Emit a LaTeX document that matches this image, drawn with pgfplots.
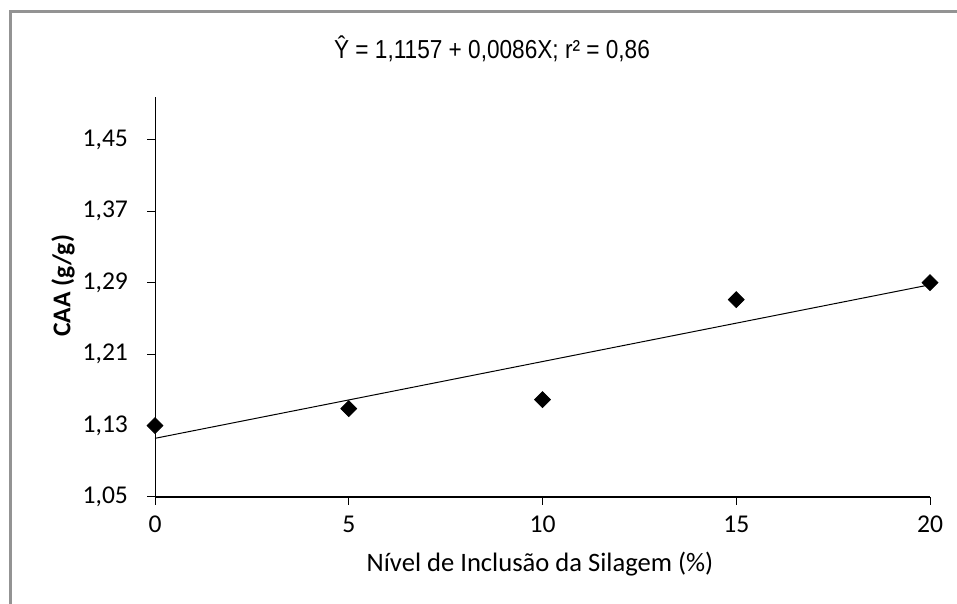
\documentclass[border=0pt]{standalone}
\usepackage{graphicx}
\usepackage{fontspec}
\setmainfont{Carlito}
\newfontfamily\arialfont{Liberation Sans}
\usepackage{pgfplots}
\pgfplotsset{compat=1.18}

\begin{document}
\begin{tikzpicture}
	% outer chart frame (gray), only top and left edges are visible
	\draw[color=gray!85, line width=1.5pt] (5pt,-10pt) -- (5pt,296pt) -- (490pt,296pt);
	%
	\node[font=\arialfont\fontsize{13}{15}\selectfont, anchor=base] at (246pt,272.5pt)
		{\scalebox{0.87}[1]{Ŷ = 1,1157 + 0,0086X; r² = 0,86}};
	%
	\begin{axis}[
	scale only axis,
	width=387.5pt, height=200pt,
	at={(77.5pt,53.5pt)}, anchor=south west,
	xmin=0, xmax=20,
	ymin=1.05, ymax=1.498,
	xtick={0,5,10,15,20},
	ytick={1.05,1.13,1.21,1.29,1.37,1.45},
	axis x line*=bottom,
	axis y line*=left,
	x axis line style={-, line width=0.8pt},
	y axis line style={-, line width=0.5pt},
	tick align=outside,
	major tick length=4pt,
	tick style={black, line width=0.5pt},
	minor tick num=0,
	clip=false,
	ticklabel style={font=\fontsize{12.8}{14}\selectfont},
	/pgf/number format/assume math mode=true,
	yticklabel style={/pgf/number format/use comma, /pgf/number format/fixed,
		/pgf/number format/fixed zerofill, /pgf/number format/precision=2, xshift=-6pt},
	xticklabel style={yshift=-2pt},
	xlabel={Nível de Inclusão da Silagem (\%)},
	ylabel={\textbf{CAA (g/g)}},
	xlabel style={font=\fontsize{13.3}{15}\selectfont,
		at={(axis description cs:0.4968,-0.1875)}, anchor=base},
	ylabel style={font=\fontsize{12.8}{15}\selectfont,
		at={(axis description cs:-0.1187,0.5275)}, anchor=center},
	]
		% regression line
		\addplot[color=black, line width=0.5pt, no marks]
			coordinates {
			(0,1.1157)(20,1.2877)
			};
		% observed means
		\addplot[
			only marks,
			mark=square*,
			mark size=2.8pt,
			mark options={rotate=45},
			color=black,
			]
			coordinates {
			(0,1.130)(5,1.149)(10,1.159)(15,1.271)(20,1.290)
			};
	\end{axis}
	%
	\pgfresetboundingbox
	\useasboundingbox (0,0) rectangle (478.5pt,302pt);
\end{tikzpicture}
\end{document}
